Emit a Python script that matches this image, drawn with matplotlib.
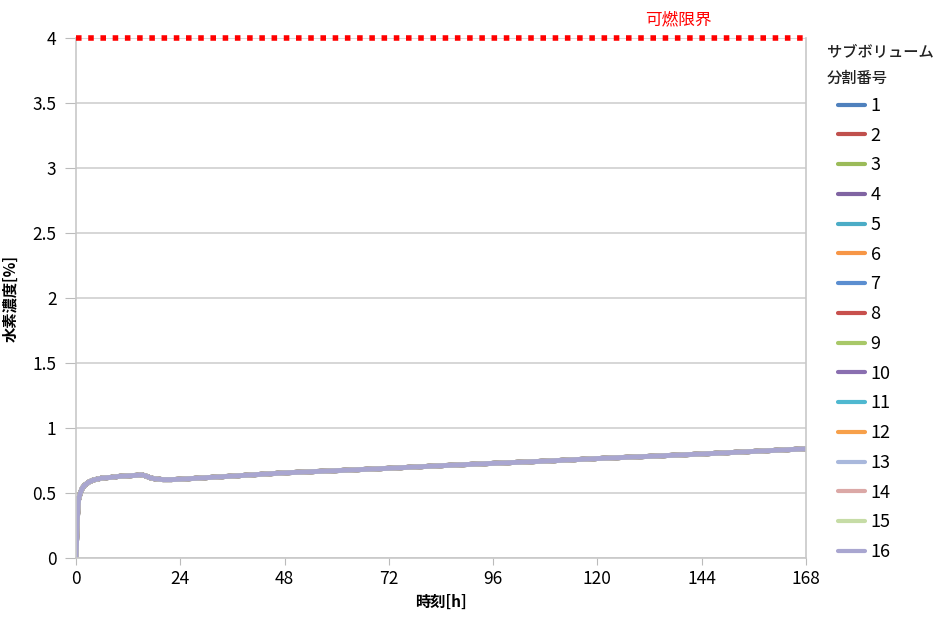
import matplotlib.pyplot as plt
import numpy as np

plt.rcParams['font.family'] = ['Noto Sans CJK JP', 'DejaVu Sans']

# time [h] and hydrogen concentration [%] (all 16 series overlap)
hours = [0, 0.3, 0.6, 1, 1.5, 2, 3, 4, 6, 8, 10, 12, 14, 15, 16, 17, 18, 20, 22, 24,
         36, 48, 60, 72, 84, 96, 108, 120, 132, 144, 156, 168]
conc = [0, 0.3, 0.45, 0.5, 0.54, 0.56, 0.585, 0.6, 0.615, 0.62, 0.628, 0.632, 0.636, 0.64,
        0.632, 0.618, 0.61, 0.603, 0.603, 0.606, 0.63, 0.655, 0.672, 0.69, 0.71, 0.728,
        0.745, 0.765, 0.782, 0.8, 0.82, 0.84]
series = [str(i) for i in range(1, 17)]
colors = ['#4F81BD', '#C0504D', '#9BBB59', '#8064A2', '#4BACC6', '#F79646',
          '#5B8ED0', '#C8504D', '#A8C868', '#8A6FB0', '#4FB8D0', '#F7A04A',
          '#A9B8DC', '#DBA8A6', '#C6DCA6', '#A9A6D0']
limit = 4.0

W, H = 946, 624
fig = plt.figure(figsize=(W / 100, H / 100), dpi=100)
ax = fig.add_axes([76 / W, 1 - 558 / H, (806 - 76) / W, (558 - 38) / H])

for name, c in zip(series, colors):
    ax.plot(hours, conc, color=c, lw=3.5, label=name, solid_capstyle='round')

ax.axhline(limit, color='#FF0000', lw=4, ls=(0, (1, 1.2)), zorder=5, clip_on=False)
fig.text(678 / W, 1 - 20 / H, '可燃限界', color='#FF0000', fontsize=12,
         ha='center', va='center')

ax.set_xlim(0, 168)
ax.set_ylim(0, 4)
ax.set_xticks(np.arange(0, 169, 24))
yt = np.arange(0, 4.01, 0.5)
ax.set_yticks(yt)
ax.set_yticklabels([f'{v:g}' for v in yt])
ax.tick_params(axis='both', labelsize=12.5, color='#BBBBBB', length=5)
ax.tick_params(axis='y', length=8, pad=6)
ax.grid(axis='y', color='#D0D0D0', lw=1.2)
ax.set_axisbelow(True)
for s in ['left', 'right', 'bottom']:
    ax.spines[s].set_color('#C8C8C8')
    ax.spines[s].set_linewidth(1.2)
ax.spines['top'].set_visible(False)

ax.set_xlabel('時刻[h]', fontsize=11, fontweight='bold', labelpad=4)
ax.set_ylabel('水素濃度[%]', fontsize=11, fontweight='bold', labelpad=10)

fig.text(827 / W, 1 - 52 / H, 'サブボリューム', fontsize=11, fontweight='medium',
         ha='left', va='center', color='#222222')
fig.text(827 / W, 1 - 78 / H, '分割番号', fontsize=11, fontweight='medium',
         ha='left', va='center', color='#222222')

leg = fig.legend(loc='upper left', bbox_to_anchor=(838 / W, 1 - 97 / H), frameon=False,
                 fontsize=13, borderpad=0, borderaxespad=0,
                 handlelength=1.5, handletextpad=0.3, labelspacing=0.65)
for h in leg.get_lines():
    h.set_linewidth(3)

fig.savefig('out.png', dpi=100)
